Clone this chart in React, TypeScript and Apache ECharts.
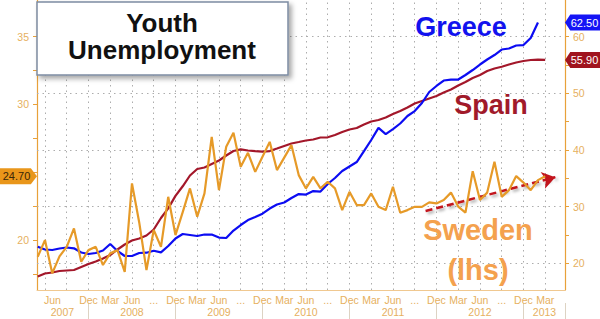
import React, { useEffect, useRef } from 'react';
import * as echarts from 'echarts';

// x is counted in months from Jan 2007 (0 = Jan 2007)
const FIRST_MONTH = 4; // May 2007
const X_MIN = 3.9;
const X_MAX = 76.73;

// Sweden youth unemployment (%), left axis, May 2007 .. Mar 2013
const sweden = [18.77, 20.0, 17.55, 18.8, 19.5, 20.86, 18.4, 19.26, 19.5, 18.16,
  19.02, 19.26, 17.66, 24.18, 21.3, 17.79, 20.74, 19.5, 23.19, 20.37,
  22.06, 23.81, 21.72, 23.44, 27.61, 23.68, 26.88, 27.91, 25.4, 26.43,
  25.03, 26.14, 27.24, 25.16, 26.08, 27.0, 24.79, 23.81, 24.66, 23.81,
  24.3, 23.81, 22.21, 23.56, 22.58, 22.58, 23.44, 22.45, 22.21, 23.93,
  22.01, 22.21, 22.45, 22.45, 22.78, 22.7, 22.95, 23.5, 22.47, 22.03,
  25.08, 22.95, 23.5, 25.77, 23.19, 23.68, 24.72, 24.24, 23.68, 24.42, 24.7];

// Greece youth unemployment (%), right axis, May 2007 .. Feb 2013
const greece = [22.93, 22.44, 22.35, 22.61, 22.79, 22.65, 21.91, 21.64, 21.82, 22.26,
  23.41, 22.17, 21.29, 21.29, 21.82, 21.87, 22.22, 21.94, 23.05, 24.38,
  25.17, 25.0, 24.82, 25.08, 25.08, 24.55, 24.47, 25.79, 26.76, 27.64,
  28.17, 28.76, 29.67, 30.38, 30.73, 31.53, 32.23, 32.14, 32.76, 32.67,
  34.0, 35.06, 36.29, 37.09, 37.88, 39.8, 41.77, 43.9, 42.82, 43.7,
  44.68, 46.0, 46.88, 48.3, 50.24, 51.3, 52.27, 52.44, 52.44, 53.24,
  54.12, 55.09, 55.98, 56.77, 57.74, 57.92, 58.45, 58.53, 59.77, 62.5];

// Spain youth unemployment (%), right axis, May 2007 .. Mar 2013
const spain = [17.67, 18.2, 18.38, 18.64, 18.73, 18.82, 19.35, 19.88, 20.32, 20.85,
  21.46, 22.44, 23.32, 24.02, 24.38, 24.91, 25.97, 28.0, 29.7, 31.9,
  33.6, 35.5, 36.65, 36.91, 37.53, 38.15, 39.03, 39.82, 40.12, 39.91,
  39.79, 39.7, 39.82, 40.26, 40.71, 41.15, 41.41, 41.68, 41.85, 42.21,
  42.24, 42.65, 43.18, 43.62, 43.88, 44.5, 45.03, 45.3, 45.74, 46.35,
  46.88, 47.5, 48.21, 48.65, 49.09, 49.53, 50.15, 50.68, 51.39, 52.0,
  52.71, 53.24, 53.95, 54.39, 54.7, 55.09, 55.45, 55.71, 55.89, 55.97, 55.9];

// x-axis labels
const monthLabelPos = [5, 11, 14, 17, 20, 23, 26, 29, 32, 35, 38, 41, 44, 47, 50, 53, 56, 59, 62, 65, 68, 71, 74];
const monthNames: Record<number, string> = { 2: 'Mar', 5: 'Jun', 8: '...', 11: 'Dec' };
const gridMonths = [5, 8, 11, 14, 17, 20, 23, 26, 29, 32, 35, 38, 41, 44, 47, 50, 53, 56, 59, 62, 65, 68, 71, 74];
const yearBoundaries = [11, 23, 35, 47, 59, 71, X_MAX];
const yearLabelPos = [7.4, 17, 29, 41, 53, 65, 73.9];
const yearLabels = ['2007', '2008', '2009', '2010', '2011', '2012', '2013'];

// y-axis ticks
const leftTicks = [17.5, 20, 22.5, 25, 27.5, 30, 32.5, 35];
const leftLabels = [20, 30, 35];
const rightTicks = [20, 25, 30, 35, 40, 45, 50, 55, 60];
const rightLabels = [20, 30, 40, 50, 60];

// trend arrow on Sweden (month, value)
const arrowFrom = [57.5, 22.14];
const arrowTo = [75.4, 24.64];

const toPairs = (arr: number[]) => arr.map((v, i) => [FIRST_MONTH + i, v]);

const AXIS_ORANGE = '#e8a13a';
const LABEL_ORANGE = '#e6b060';
const FONT = '"Liberation Sans", Arial, sans-serif';

export default function App() {
  const ref = useRef<HTMLDivElement>(null);
  useEffect(() => {
    const chart = echarts.init(ref.current!, null, { renderer: 'svg' });
    const option: any = {
      animation: false,
      backgroundColor: '#ffffff',
      textStyle: { fontFamily: FONT },
      grid: { left: 37, right: 35, top: 0, bottom: 29, containLabel: false },
      xAxis: [
        {
          type: 'value', min: X_MIN, max: X_MAX, position: 'bottom',
          axisLine: { show: true, lineStyle: { color: '#f0c890', width: 1 } },
          axisTick: { show: false },
          splitLine: { show: false },
          axisLabel: {
            customValues: monthLabelPos,
            color: LABEL_ORANGE, fontSize: 10.5, margin: 4, fontFamily: FONT,
            formatter: (v: number) => {
              const m = Math.round(v);
              const name = monthNames[((m % 12) + 12) % 12];
              return m === 5 ? '{first|' + name + '}' : name;
            },
            rich: { first: { padding: [0, 0, 0, 15], color: LABEL_ORANGE, fontSize: 10.5, fontFamily: FONT } },
          },
        },
        {
          type: 'value', min: X_MIN, max: X_MAX, position: 'bottom', offset: 13,
          axisLine: { show: false },
          axisTick: { show: true, customValues: yearBoundaries, length: 16, lineStyle: { color: '#ddd3c3', width: 1 } },
          splitLine: { show: false },
          axisLabel: {
            customValues: yearLabelPos,
            color: LABEL_ORANGE, fontSize: 10.5, margin: 3, fontFamily: FONT,
            formatter: (v: number) => {
              const i = yearLabelPos.findIndex((p) => Math.abs(p - v) < 0.01);
              return i >= 0 ? yearLabels[i] : '';
            },
          },
        },
      ],
      yAxis: [
        {
          type: 'value', min: 16.32, max: 37.7, position: 'left',
          axisLine: { show: true, lineStyle: { color: AXIS_ORANGE, width: 1.2 } },
          axisTick: { show: true, customValues: leftTicks, length: 4, lineStyle: { color: AXIS_ORANGE } },
          axisLabel: { customValues: leftLabels, color: LABEL_ORANGE, fontSize: 10.5, margin: 8, fontFamily: FONT },
          splitLine: { show: false },
        },
        {
          type: 'value', min: 15.29, max: 66.48, position: 'right',
          axisLine: { show: true, lineStyle: { color: AXIS_ORANGE, width: 1.2 } },
          axisTick: { show: true, customValues: rightTicks, length: 4, lineStyle: { color: AXIS_ORANGE } },
          axisLabel: { customValues: rightLabels, color: LABEL_ORANGE, fontSize: 10.5, margin: 8, fontFamily: FONT },
          splitLine: { show: false },
        },
      ],
      series: [
        {
          name: 'grid', type: 'line', xAxisIndex: 0, yAxisIndex: 1, z: 1, silent: true,
          data: toPairs(spain), showSymbol: false, lineStyle: { width: 0, color: 'rgba(0,0,0,0)' },
          markLine: {
            silent: true, z: 1, symbol: 'none', label: { show: false },
            lineStyle: { color: '#adadad', type: [1.5, 4], width: 1, opacity: 1 },
            emphasis: { disabled: true },
            data: [
              ...rightLabels.map((v) => ({ yAxis: v })),
              ...gridMonths.map((m) => ({ xAxis: m })),
            ],
          },
        },
        {
          name: 'Spain', type: 'line', xAxisIndex: 0, yAxisIndex: 1, z: 3,
          data: toPairs(spain), showSymbol: false,
          lineStyle: { color: '#a3172a', width: 2.2 }, itemStyle: { color: '#a3172a' },
          markPoint: {
            symbol: 'path://M6,0H40V16H6L0,8Z', symbolSize: [35, 16], symbolOffset: [17.5, 0],
            itemStyle: { color: '#a0141e' },
            label: { show: true, position: 'inside', offset: [2, 0], color: '#ffffff', fontSize: 11, fontFamily: FONT, formatter: '55.90' },
            data: [{ coord: [X_MAX, spain[spain.length - 1]] }],
          },
        },
        {
          name: 'Greece', type: 'line', xAxisIndex: 0, yAxisIndex: 1, z: 4,
          data: toPairs(greece), showSymbol: false,
          lineStyle: { color: '#0c0cf2', width: 2.2 }, itemStyle: { color: '#0c0cf2' },
          markPoint: {
            symbol: 'path://M6,0H40V16H6L0,8Z', symbolSize: [35, 16], symbolOffset: [17.5, 0],
            itemStyle: { color: '#1414f5' },
            label: { show: true, position: 'inside', offset: [2, 0], color: '#ffffff', fontSize: 11, fontFamily: FONT, formatter: '62.50' },
            data: [{ coord: [X_MAX, greece[greece.length - 1]] }],
          },
        },
        {
          name: 'Sweden', type: 'line', xAxisIndex: 0, yAxisIndex: 0, z: 5,
          data: toPairs(sweden), showSymbol: false,
          lineStyle: { color: '#e69a28', width: 2.2 }, itemStyle: { color: '#e69a28' },
          markPoint: {
            symbol: 'path://M0,0H30L36,8L30,16H0Z', symbolSize: [37, 16], symbolOffset: [-18.5, 0],
            itemStyle: { color: '#e9961a' },
            label: { show: true, position: 'inside', offset: [-2, 0], color: '#3a2608', fontSize: 11, fontFamily: FONT, formatter: '24.70' },
            data: [{ coord: [X_MIN, sweden[sweden.length - 1]] }],
          },
          markLine: {
            silent: true, symbol: ['none', 'arrow'], symbolSize: 13, label: { show: false },
            lineStyle: {
              color: '#c2141c', width: 2.5, type: [7, 4],
              shadowBlur: 3, shadowColor: 'rgba(0,0,0,0.35)', shadowOffsetX: 2, shadowOffsetY: 2,
            },
            data: [[{ coord: arrowFrom }, { coord: arrowTo }]],
          },
        },
      ],
      graphic: [
        {
          type: 'rect', z: 100,
          shape: { x: 37, y: 2, width: 251, height: 73 },
          style: {
            fill: '#ffffff', stroke: '#7d8ca3', lineWidth: 1.5,
            shadowBlur: 5, shadowOffsetX: 3, shadowOffsetY: 3, shadowColor: 'rgba(0,0,0,0.35)',
          },
        },
        {
          type: 'text', z: 101, x: 162, y: 22.5,
          style: { text: 'Youth', fill: '#111111', font: 'bold 26px "Liberation Sans", Arial, sans-serif', textAlign: 'center', textVerticalAlign: 'middle' },
        },
        {
          type: 'text', z: 101, x: 162, y: 50,
          style: { text: 'Unemployment', fill: '#111111', font: 'bold 26px "Liberation Sans", Arial, sans-serif', textAlign: 'center', textVerticalAlign: 'middle' },
        },
        {
          type: 'text', z: 101, x: 461, y: 27,
          style: { text: 'Greece', fill: '#1212ee', font: 'bold 27px "Liberation Sans", Arial, sans-serif', textAlign: 'center', textVerticalAlign: 'middle' },
        },
        {
          type: 'text', z: 101, x: 491, y: 105,
          style: { text: 'Spain', fill: '#a11a2a', font: 'bold 27px "Liberation Sans", Arial, sans-serif', textAlign: 'center', textVerticalAlign: 'middle' },
        },
        {
          type: 'text', z: 101, x: 478, y: 230,
          style: { text: 'Sweden', fill: '#f4a14e', font: 'bold 29px "Liberation Sans", Arial, sans-serif', textAlign: 'center', textVerticalAlign: 'middle' },
        },
        {
          type: 'text', z: 101, x: 478, y: 270,
          style: { text: '(lhs)', fill: '#f4a14e', font: 'bold 29px "Liberation Sans", Arial, sans-serif', textAlign: 'center', textVerticalAlign: 'middle' },
        },
      ],
    };
    chart.setOption(option);
    return () => chart.dispose();
  }, []);
  return <div ref={ref} style={{ position: 'fixed', left: 0, top: 0, width: 600, height: 319 }} />;
}
